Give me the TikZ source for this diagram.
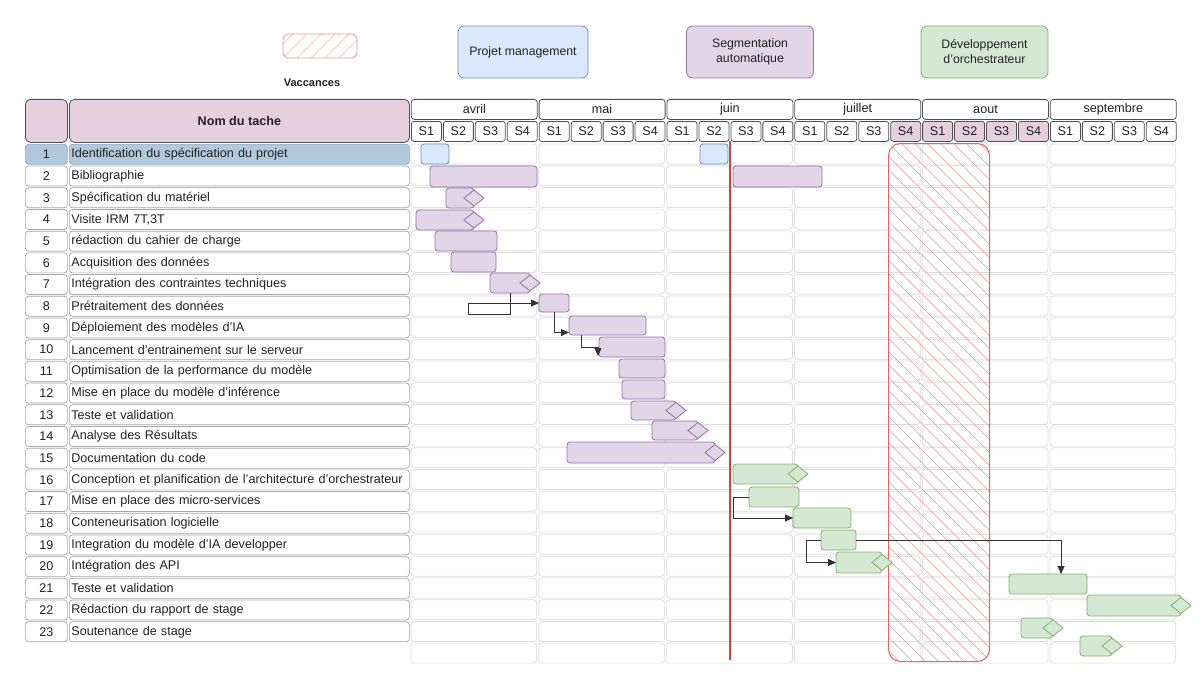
\documentclass[tikz,border=0pt]{standalone}
\usepackage{fontspec}
\setmainfont{Liberation Sans}
\usetikzlibrary{arrows.meta}

\definecolor{bluefill}{HTML}{DAE8FC}
\definecolor{bluedraw}{HTML}{6C8EBF}
\definecolor{purfill}{HTML}{E1D5E7}
\definecolor{purdraw}{HTML}{9673A6}
\definecolor{grefill}{HTML}{D5E8D4}
\definecolor{gredraw}{HTML}{82B366}
\definecolor{pinkfill}{HTML}{E6D0DE}
\definecolor{headdraw}{HTML}{505050}
\definecolor{selfill}{HTML}{B0C7DC}
\definecolor{seldraw}{HTML}{8FA9C1}
\definecolor{celldraw}{HTML}{A6A6A6}
\definecolor{griddraw}{HTML}{DDDDDD}
\definecolor{todayred}{HTML}{C9453F}
\definecolor{vacdraw}{HTML}{D86A6A}
\definecolor{vachatch}{HTML}{E89A9A}
\definecolor{txt}{HTML}{222222}

\newcommand\rowfont{\fontsize{12.6}{14}\selectfont}
\newcommand\legfont{\fontsize{12.3}{15}\selectfont}

% task bar: style, name, x1, y1, x2, y2 (y grows downwards)
\newcommand\ganttbar[6]{\node[#1, minimum width={(#5)-(#3)}, minimum height={(#6)-(#4)}] (#2) at (#3,#4) {};}
% milestone diamond on the right end of a bar
\newcommand\milestone[2]{\draw[#1, rounded corners=0pt] (#2.east) ++(-10,0) -- ++(10,-8) -- ++(10,8) -- ++(-10,8) -- cycle;}

\begin{document}
\begin{tikzpicture}[x=1pt,y=-1pt,
  barbase/.style={draw, line width=0.8pt, rounded corners=3pt, inner sep=0pt, outer sep=0pt, anchor=north west},
  pbar/.style={barbase, fill=purfill, draw=purdraw},
  bbar/.style={barbase, fill=bluefill, draw=bluedraw},
  gbar/.style={barbase, fill=grefill, draw=gredraw},
  pdia/.style={fill=purfill, draw=purdraw, line width=0.8pt},
  gdia/.style={fill=grefill, draw=gredraw, line width=0.8pt},
  numcell/.style={draw=celldraw, fill=white, rounded corners=3pt, line width=0.7pt, minimum width=42pt, minimum height=20pt, inner sep=0pt, anchor=north west, font=\rowfont, text=txt},
  namecell/.style={draw=celldraw, fill=white, rounded corners=3pt, line width=0.7pt, minimum height=20pt, text width=336pt, inner xsep=2pt, inner ysep=0pt, align=left, anchor=north west, font=\rowfont, text=txt},
  headcell/.style={draw=headdraw, fill=pinkfill, rounded corners=5pt, line width=0.8pt, inner sep=0pt, anchor=north west, text=txt},
  monthcell/.style={draw=headdraw, fill=white, rounded corners=3pt, line width=0.8pt, inner sep=0pt, anchor=north west, minimum width=126pt, minimum height=20pt, font=\rowfont, text=txt},
  weekcell/.style={draw=headdraw, rounded corners=2.5pt, line width=0.8pt, inner sep=0pt, anchor=north west, minimum width=30pt, minimum height=20pt, font=\rowfont, text=txt},
  gridcell/.style={draw=griddraw, rounded corners=3pt, line width=0.7pt},
  legbox/.style={rounded corners=6pt, line width=0.8pt, align=center, font=\legfont, text=txt, inner sep=0pt},
  conn/.style={draw=black!80, line width=1pt, rounded corners=0pt, -{Triangle[length=8pt,width=7pt]}}
]
\useasboundingbox[fill=white] (0,0) rectangle (1200,677);

% ---------- legend ----------
\node[legbox, draw=vacdraw!70, minimum width=74pt, minimum height=24pt,
  path picture={\foreach \c in {0,14,...,112}
    {\draw[vachatch!70, line width=0.6pt] (path picture bounding box.south west) ++(\c-28,0) -- ++(30,-30);}}]
  (legvac) at (320,46) {};
\node[font=\bfseries\fontsize{11}{13}\selectfont, text=txt] (legvactxt) at (312,83) {Vaccances};
\node[legbox, fill=bluefill, draw=bluedraw, minimum width=130pt, minimum height=52pt] (legpm) at (523,52) {Projet management};
\node[legbox, fill=purfill, draw=purdraw, minimum width=127pt, minimum height=52pt] (legseg) at (750,52) {Segmentation\\automatique};
\node[legbox, fill=grefill, draw=gredraw, minimum width=127pt, minimum height=52pt] (legdev) at (984.5,52) {Développement\\d'orchestrateur};

% ---------- table header ----------
\node[headcell, minimum width=42pt, minimum height=43pt] (hnum) at (25,99) {};
\node[headcell, minimum width=340pt, minimum height=43pt, font=\bfseries\rowfont] (hname) at (69,99) {Nom du tache};

\foreach \nm [count=\k from 0] in {avril,mai,juin,juillet,aout,septembre}{
  \pgfmathsetmacro\mx{410+\k*127.8+0.9}
  \node[monthcell] (month\k) at (\mx,99) {\nm};
  \foreach \w in {1,...,4}{
    \pgfmathsetmacro\wx{410+\k*127.8+(\w-1)*31.95+1}
    \pgfmathtruncatemacro\idx{\k*4+\w}
    \ifnum\idx>15 \ifnum\idx<21 \def\wfill{pinkfill}\else\def\wfill{white}\fi\else\def\wfill{white}\fi
    \node[weekcell, fill=\wfill] (wk\k\w) at (\wx,121) {S\w};
  }
}

% ---------- task list ----------
\foreach \i/\t in {
  1/{Identification du spécification du projet},
  2/{Bibliographie},
  3/{Spécification du matériel},
  4/{Visite IRM 7T,3T},
  5/{rédaction du cahier de charge},
  6/{Acquisition des données},
  7/{Intégration des contraintes techniques},
  8/{Prétraitement des données},
  9/{Déploiement des modèles d'IA},
  10/{Lancement d'entrainement sur le serveur},
  11/{Optimisation de la performance du modèle},
  12/{Mise en place du modèle d'inférence},
  13/{Teste et validation},
  14/{Analyse des Résultats},
  15/{Documentation du code},
  16/{Conception et planification de l'architecture d'orchestrateur},
  17/{Mise en place des micro-services},
  18/{Conteneurisation logicielle},
  19/{Integration du modèle d'IA developper},
  20/{Intégration des API},
  21/{Teste et validation},
  22/{Rédaction du rapport de stage},
  23/{Soutenance de stage}}{
  \pgfmathsetmacro\yt{144+(\i-1)*21.7}
  \ifnum\i=1
    \node[numcell, fill=selfill, draw=seldraw] (num\i) at (25,\yt) {\i};
    \node[namecell, fill=selfill, draw=seldraw] (task\i) at (69,\yt) {\t};
  \else
    \node[numcell] (num\i) at (25,\yt) {\i};
    \node[namecell] (task\i) at (69,\yt) {\t};
  \fi
}

% ---------- calendar grid ----------
\foreach \k in {0,...,5}{
  \foreach \r in {1,...,24}{
    \pgfmathsetmacro\gx{410+\k*127.8+1}
    \pgfmathsetmacro\gy{144+(\r-1)*21.7}
    \draw[gridcell] (\gx,\gy) rectangle ++(125.8,20);
  }
}

% ---------- holidays ----------
\node[draw=vacdraw, line width=1pt, rounded corners=12pt, inner sep=0pt, anchor=north west,
  minimum width=101pt, minimum height=518pt,
  path picture={\foreach \c in {0,13,...,624}
    {\draw[vachatch, line width=0.6pt] (path picture bounding box.north west) ++(\c-520,0) -- ++(522,522);}}]
  (vac) at (888,143) {};

% ---------- current date ----------
\coordinate (today top) at (730,141);
\coordinate (today bottom) at (730,660);
\draw[todayred, line width=1.4pt] (today top) -- (today bottom);

% ---------- bars ----------
\ganttbar{bbar}{b1a}{421}{144}{449}{164}
\ganttbar{bbar}{b1b}{700}{144}{728}{164}
\ganttbar{pbar}{b2a}{430}{166}{537}{187}
\ganttbar{pbar}{b2b}{733}{166}{822}{187}
\ganttbar{pbar}{b3}{446}{188}{474}{208}
\ganttbar{pbar}{b4}{416}{210}{474}{230}
\ganttbar{pbar}{b5}{435}{231}{497}{251}
\ganttbar{pbar}{b6}{451}{252}{496}{272}
\ganttbar{pbar}{b7}{490}{273}{530}{293}
\ganttbar{pbar}{b8}{539}{294}{569}{312}
\ganttbar{pbar}{b9}{569}{316}{646}{335}
\ganttbar{pbar}{b10}{599}{337}{665}{357}
\ganttbar{pbar}{b11}{619}{359}{665}{378}
\ganttbar{pbar}{b12}{622}{380}{665}{399}
\ganttbar{pbar}{b13}{631}{401}{676}{420}
\ganttbar{pbar}{b14}{652}{421}{698}{440}
\ganttbar{pbar}{b15}{567}{442}{715}{463}
\ganttbar{gbar}{b16}{733}{464}{798}{484}
\ganttbar{gbar}{b17}{749}{487}{799}{507}
\ganttbar{gbar}{b18}{793}{508}{851}{528}
\ganttbar{gbar}{b19}{821}{530}{856}{550}
\ganttbar{gbar}{b20}{836}{552}{882}{573}
\ganttbar{gbar}{b21}{1009}{574}{1087}{594}
\ganttbar{gbar}{b22}{1087}{595}{1181}{616}
\ganttbar{gbar}{b23}{1021}{618}{1053}{638}
\ganttbar{gbar}{b24}{1080}{636}{1112}{656}

\milestone{pdia}{b3}
\milestone{pdia}{b4}
\milestone{pdia}{b7}
\milestone{pdia}{b13}
\milestone{pdia}{b14}
\milestone{pdia}{b15}
\milestone{gdia}{b16}
\milestone{gdia}{b20}
\milestone{gdia}{b22}
\milestone{gdia}{b23}
\milestone{gdia}{b24}

% ---------- dependencies ----------
\coordinate (k7) at (468,314);
\draw[conn] (b7.south) |- (k7) |- (b8.west);
\draw[conn] (b8.south) |- ([yshift=-7pt]b9.west);
\coordinate (k9) at (598,347);
\draw[conn] ([xshift=12pt]b9.south west) |- (k9) -- ++(0,9);
\draw[conn] (b17.west) -- ++(-16,0) |- (b18.west);
\draw[conn] (b19.east) -| ([xshift=13pt]b21.north);
\draw[conn] (b19.west) -- ++(-15,0) |- (b20.west);

\end{tikzpicture}
\end{document}
